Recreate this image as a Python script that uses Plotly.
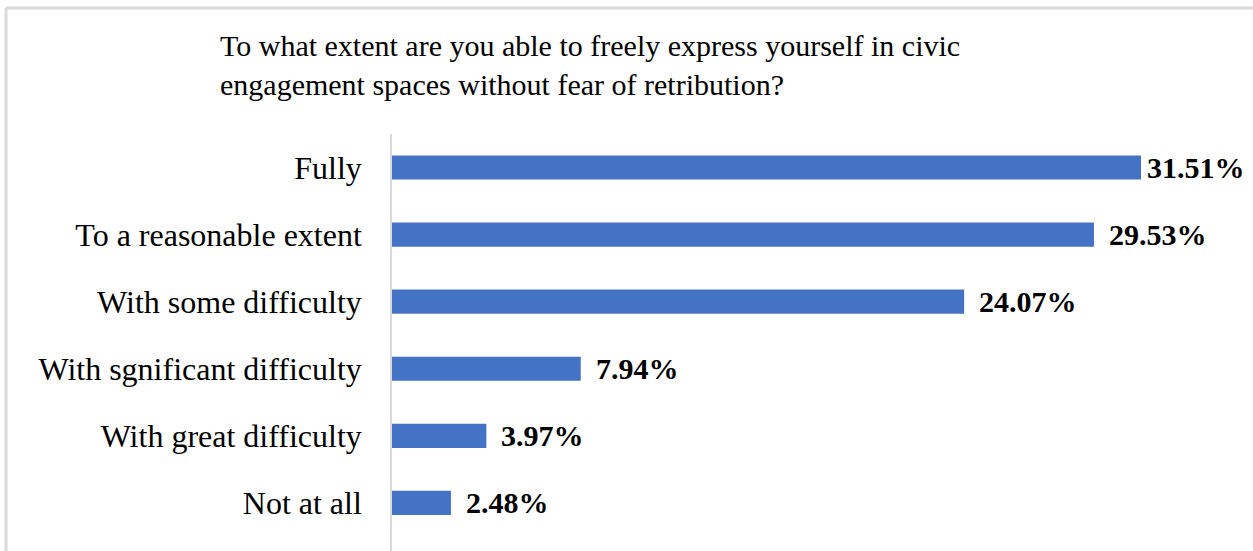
import plotly.graph_objects as go

# Survey responses (percent of respondents)
categories = [
    "Fully",
    "To a reasonable extent",
    "With some difficulty",
    "With sgnificant difficulty",
    "With great difficulty",
    "Not at all",
]
values = [31.51, 29.53, 24.07, 7.94, 3.97, 2.48]
value_labels = ["31.51%", "29.53%", "24.07%", "7.94%", "3.97%", "2.48%"]

W, H = 1253, 551
LEFT, TOP = 392, 134
SERIF = "Liberation Serif, Times New Roman, serif"
BAR_BLUE = "#4472C4"
FRAME_GREY = "#D9D9D9"

fig = go.Figure(
    go.Bar(
        y=categories,
        x=values,
        orientation="h",
        width=0.36,
        marker=dict(color=BAR_BLUE, line=dict(width=0)),
        hoverinfo="skip",
    )
)

# bold value labels just past the end of each bar
for i, (cat, v, lab) in enumerate(zip(categories, values, value_labels)):
    fig.add_annotation(
        x=v, y=cat, text=f"<b>{lab}</b>", showarrow=False,
        xanchor="left", yanchor="middle",
        xshift=4 if i == 0 else 13,
        font=dict(family=SERIF, size=30, color="#000000"),
    )

# light frame around the chart area (top and left edges)
px_w = W - LEFT
px_h = H - TOP
def fx(px):
    return (px - LEFT) / px_w
def fy(py):
    return (H - py) / px_h

fig.add_shape(type="line", xref="paper", yref="paper",
              x0=fx(6), x1=fx(W + 5), y0=fy(8), y1=fy(8),
              line=dict(color=FRAME_GREY, width=3))
fig.add_shape(type="line", xref="paper", yref="paper",
              x0=fx(6), x1=fx(6), y0=fy(8), y1=fy(H + 5),
              line=dict(color=FRAME_GREY, width=3))

fig.update_layout(
    width=W, height=H,
    margin=dict(l=LEFT, r=0, t=TOP, b=0),
    paper_bgcolor="white", plot_bgcolor="white",
    showlegend=False,
    font=dict(family=SERIF, size=30, color="#000000"),
    title=dict(
        text="To what extent are you able to freely express yourself in civic<br>engagement spaces without fear of retribution?",
        x=220 / W, xanchor="left", xref="container",
        y=1 - 56 / H, yanchor="top", yref="container",
        font=dict(family=SERIF, size=30, color="#000000"),
    ),
    xaxis=dict(
        range=[0, px_w / 23.77], visible=False, fixedrange=True,
    ),
    yaxis=dict(
        categoryorder="array", categoryarray=categories,
        range=[-0.5 + px_h / 67.07, -0.5],
        showline=True, linecolor=FRAME_GREY, linewidth=1.5,
        showgrid=False, zeroline=False, ticks="",
        ticklabelstandoff=22,
        tickfont=dict(family=SERIF, size=32, color="#000000"),
    ),
)

fig.write_html("out.html")
